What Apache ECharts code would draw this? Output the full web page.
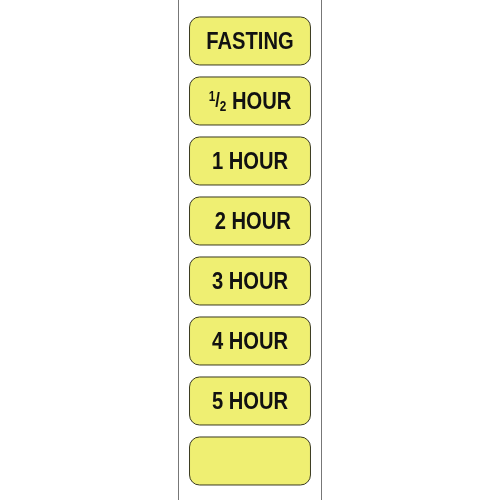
<!DOCTYPE html>
<html><head><meta charset="utf-8">
<script src="https://cdn.jsdelivr.net/npm/echarts@6/dist/echarts.min.js"></script>
<style>html,body{margin:0;padding:0;background:#fff}#c{width:500px;height:500px}</style>
</head><body><div id="c"></div>
<script>
const labels = ['FASTING', '{sup|1}{n|/}{sub|2} HOUR', '1 HOUR', ' 2 HOUR', '3 HOUR', '4 HOUR', '5 HOUR', ''];
const slots = [0, 1, 2, 3, 4, 5, 6, 7];
const chart = echarts.init(document.getElementById('c'));
const F = '"Liberation Sans", Arial, sans-serif';
chart.setOption({
  animation: false,
  graphic: [
    {type:'rect', shape:{x:178.5,y:-1,width:143,height:502}, style:{fill:'#fff', stroke:'#777', lineWidth:1}}
  ],
  grid: {left:178, right:178, top:0, bottom:0},
  xAxis: {type:'value', min:0, max:1, show:false},
  yAxis: {type:'value', min:-0.683, max:7.65, inverse:true, show:false},
  series: [{
    type:'custom',
    data: slots.map((s,i)=>[s, labels[i]]),
    renderItem: function(params, api){
      const c = api.coord([0.5, api.value(0)]);
      const h = api.size([0, 0.8])[1];
      const w = api.size([0.84, 0])[0];
      return {type:'group', children:[
        {type:'rect', shape:{x:c[0]-w/2, y:c[1]-h/2, width:w, height:h, r:10},
         style:{fill:'#efef72', stroke:'#3a3a20', lineWidth:1}},
        {type:'text', x:c[0], y:c[1]+1, scaleX:0.84, style:{x:0, y:0, text:labels[params.dataIndex], align:'center', verticalAlign:'middle',
          fill:'#111', font:'bold 24px '+F,
          rich:{
            sup:{font:'bold 14px '+F, verticalAlign:'top', padding:[0,0,10,0], fill:'#111'},
            n:{font:'bold 20px '+F, fill:'#111'},
            sub:{font:'bold 14px '+F, padding:[10,0,0,0], fill:'#111'}
          }}}
      ]};
    }
  }]
});
</script></body></html>
